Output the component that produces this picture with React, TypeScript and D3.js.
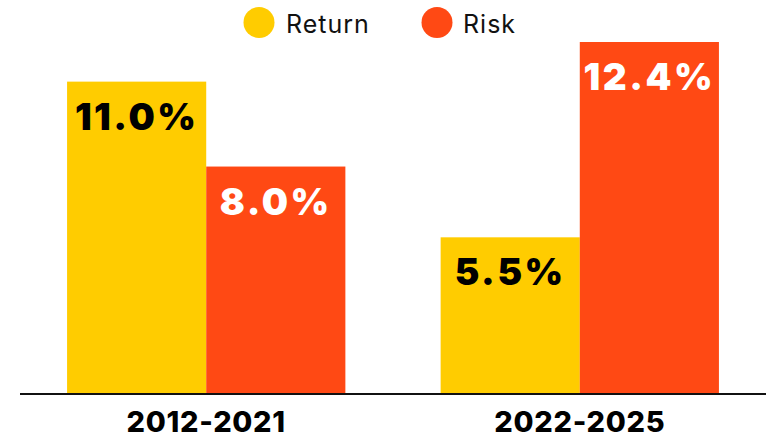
import * as d3 from 'd3';
import React from 'react';

const periods = ['2012-2021', '2022-2025'];
const seriesNames = ['Return', 'Risk'];
const returnValues = [11.0, 5.5];
const riskValues = [8.0, 12.4];
const colors = ['#FFCC00', '#FF4914'];
const labelColors = ['#000000', '#FFFFFF'];

const W = 768;
const H = 438;
const baseY = 393;

export default function App() {
  const x0 = d3.scaleBand().domain(periods).range([20, 766])
    .paddingInner(0.255).paddingOuter(0.126);
  const x1 = d3.scaleBand().domain(seriesNames).range([0, x0.bandwidth()]);
  const y = d3.scaleLinear().domain([0, 12.4]).range([baseY, 42]);

  const rows = periods.map((p, i) => ({period: p, values: [returnValues[i], riskValues[i]]}));

  return (
    <svg width={W} height={H} style={{position: 'absolute', left: 0, top: 0}}>
      <rect width={W} height={H} fill="#fff" />
      {/* legend */}
      <g fontFamily="Inter, 'Noto Sans', sans-serif" fontSize={25} letterSpacing={1} fill="#111">
        <circle cx={259} cy={22.5} r={15.5} fill={colors[0]} />
        <text x={286} y={33}>{seriesNames[0]}</text>
        <circle cx={437} cy={22.5} r={15.5} fill={colors[1]} />
        <text x={463} y={33}>{seriesNames[1]}</text>
      </g>
      {rows.map(r => (
        <g key={r.period} transform={`translate(${x0(r.period)},0)`}>
          {r.values.map((v, j) => (
            <g key={j}>
              <rect x={x1(seriesNames[j])} y={y(v)} width={x1.bandwidth()}
                height={baseY - y(v)} fill={colors[j]} />
              <text x={(x1(seriesNames[j]) || 0) + x1.bandwidth() / 2} y={y(v) + 48}
                textAnchor="middle" fontFamily="Inter, sans-serif" fontWeight={900}
                fontSize={37} letterSpacing={2.5} fill={labelColors[j]}>
                {v.toFixed(1) + '%'}
              </text>
            </g>
          ))}
          <text x={x0.bandwidth() / 2} y={432} textAnchor="middle"
            fontFamily="Inter, sans-serif" fontWeight={800} fontSize={29}
            letterSpacing={0.7} fill="#000">
            {r.period}
          </text>
        </g>
      ))}
      <line x1={20} x2={766} y1={394} y2={394} stroke="#111" strokeWidth={2} />
    </svg>
  );
}
